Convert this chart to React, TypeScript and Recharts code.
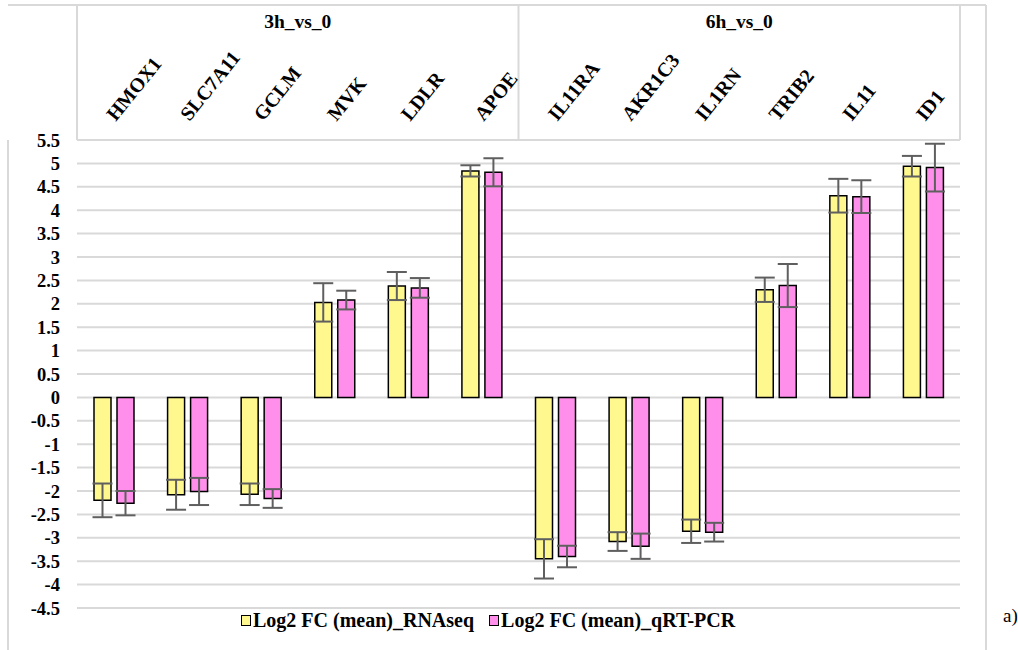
import React from 'react';
import { BarChart, Bar, XAxis, YAxis, CartesianGrid, ErrorBar, usePlotArea } from 'recharts';

const genes = ['HMOX1', 'SLC7A11', 'GCLM', 'MVK', 'LDLR', 'APOE', 'IL11RA', 'AKR1C3', 'IL1RN', 'TRIB2', 'IL11', 'ID1'];
const groups = ['3h_vs_0', '6h_vs_0'];
const geneGroups = ['3h_vs_0', '3h_vs_0', '3h_vs_0', '3h_vs_0', '3h_vs_0', '3h_vs_0', '6h_vs_0', '6h_vs_0', '6h_vs_0', '6h_vs_0', '6h_vs_0', '6h_vs_0'];
const rnaseq = [-2.2, -2.08, -2.07, 2.03, 2.38, 4.84, -3.45, -3.08, -2.86, 2.3, 4.31, 4.94];
const rnaseqErr = [0.36, 0.32, 0.23, 0.41, 0.3, 0.12, 0.42, 0.2, 0.25, 0.26, 0.36, 0.22];
const qpcr = [-2.26, -2.01, -2.16, 2.08, 2.34, 4.81, -3.4, -3.18, -2.88, 2.39, 4.29, 4.91];
const qpcrErr = [0.26, 0.29, 0.2, 0.2, 0.21, 0.3, 0.23, 0.27, 0.2, 0.46, 0.35, 0.51];
const yTicks = [5.5, 5, 4.5, 4, 3.5, 3, 2.5, 2, 1.5, 1, 0.5, 0, -0.5, -1, -1.5, -2, -2.5, -3, -3.5, -4, -4.5];
const seriesNames = ['Log2 FC (mean)_RNAseq', 'Log2 FC (mean)_qRT-PCR'];
const panelLabel = 'a)';

const data = genes.map((g, i) => ({
  gene: g,
  group: geneGroups[i],
  rna: rnaseq[i],
  rnaErr: rnaseqErr[i],
  pcr: qpcr[i],
  pcrErr: qpcrErr[i],
}));

const FONT = '"Liberation Serif", "Times New Roman", serif';
const GRID = '#d9d9d9';
const YELLOW = '#fff88f';
const PINK = '#ff8fea';
const ERR = '#5f5f5f';
const W = 1018;
const H = 650;

function GeneTick(props: any) {
  const { x, y, payload } = props;
  const ax = x + 2;
  const ay = y - 18;
  return (
    <text
      x={ax}
      y={ay}
      transform={`rotate(-51 ${ax} ${ay})`}
      fontFamily={FONT}
      fontWeight={700}
      fontSize={20}
      fill="#000"
      textAnchor="start"
    >
      {payload.value}
    </text>
  );
}

function HeaderFrame() {
  const area = usePlotArea();
  if (!area) return null;
  const left = area.x;
  const right = area.x + area.width;
  const bottom = area.y;
  const top = 5;
  const total = genes.length;
  let acc = 0;
  const segs = groups.map((g) => {
    const n = geneGroups.filter((v) => v === g).length;
    const x0 = left + (area.width * acc) / total;
    acc += n;
    const x1 = left + (area.width * acc) / total;
    return { g, x0, x1 };
  });
  const ls = { stroke: GRID, strokeWidth: 2 };
  return (
    <g>
      <line x1={8} y1={top} x2={986} y2={top} {...ls} />
      <line x1={8} y1={bottom} x2={8} y2={H} {...ls} />
      <line x1={986} y1={top} x2={986} y2={H} {...ls} />
      <line x1={left} y1={top} x2={left} y2={bottom} {...ls} />
      <line x1={right} y1={top} x2={right} y2={bottom} {...ls} />
      {segs.slice(1).map((s) => (
        <line key={s.g} x1={s.x0} y1={top} x2={s.x0} y2={bottom} {...ls} />
      ))}
      {segs.map((s) => (
        <text
          key={'t' + s.g}
          x={(s.x0 + s.x1) / 2}
          y={28}
          textAnchor="middle"
          fontFamily={FONT}
          fontWeight={700}
          fontSize={19.5}
          fill="#000"
        >
          {s.g}
        </text>
      ))}
      <text x={1003} y={622} fontFamily={FONT} fontSize={19} fill="#000">
        {panelLabel}
      </text>
    </g>
  );
}

function LegendBox() {
  const colors = [YELLOW, PINK];
  return (
    <div
      style={{
        position: 'absolute',
        left: 241,
        top: 609,
        display: 'flex',
        alignItems: 'center',
        fontFamily: FONT,
        fontWeight: 700,
        fontSize: 20,
        color: '#000',
        whiteSpace: 'nowrap',
      }}
    >
      {seriesNames.map((n, i) => (
        <div key={n} style={{ display: 'flex', alignItems: 'center', marginRight: 15 }}>
          <span
            style={{
              display: 'inline-block',
              width: 8,
              height: 9,
              border: '1px solid #000',
              background: colors[i],
              marginRight: 2,
            }}
          />
          <span>{n}</span>
        </div>
      ))}
    </div>
  );
}

export default function App() {
  return (
    <div style={{ position: 'absolute', left: 0, top: 0, width: W, height: H, background: '#fff' }}>
      <BarChart
        width={W}
        height={H}
        data={data}
        margin={{ top: 5, right: 58, bottom: 42, left: 0 }}
        barSize={17}
        barGap={6}
      >
        <CartesianGrid horizontal vertical={false} stroke={GRID} strokeWidth={2} />
        <XAxis
          dataKey="gene"
          orientation="top"
          height={135}
          axisLine={false}
          tickLine={false}
          tickSize={0}
          tickMargin={0}
          interval={0}
          tick={<GeneTick />}
        />
        <YAxis
          type="number"
          domain={[-4.5, 5.5]}
          ticks={yTicks}
          interval={0}
          width={77}
          axisLine={false}
          tickLine={false}
          tickSize={0}
          tickMargin={17}
          tick={{ fontFamily: FONT, fontWeight: 700, fontSize: 18.5, fill: '#000' }}
        />
        <Bar dataKey="rna" name={seriesNames[0]} fill={YELLOW} stroke="#000" strokeWidth={1.5} isAnimationActive={false}>
          <ErrorBar dataKey="rnaErr" width={10} stroke={ERR} strokeWidth={2} direction="y" />
        </Bar>
        <Bar dataKey="pcr" name={seriesNames[1]} fill={PINK} stroke="#000" strokeWidth={1.5} isAnimationActive={false}>
          <ErrorBar dataKey="pcrErr" width={10} stroke={ERR} strokeWidth={2} direction="y" />
        </Bar>
        <HeaderFrame />
      </BarChart>
      <LegendBox />
    </div>
  );
}
